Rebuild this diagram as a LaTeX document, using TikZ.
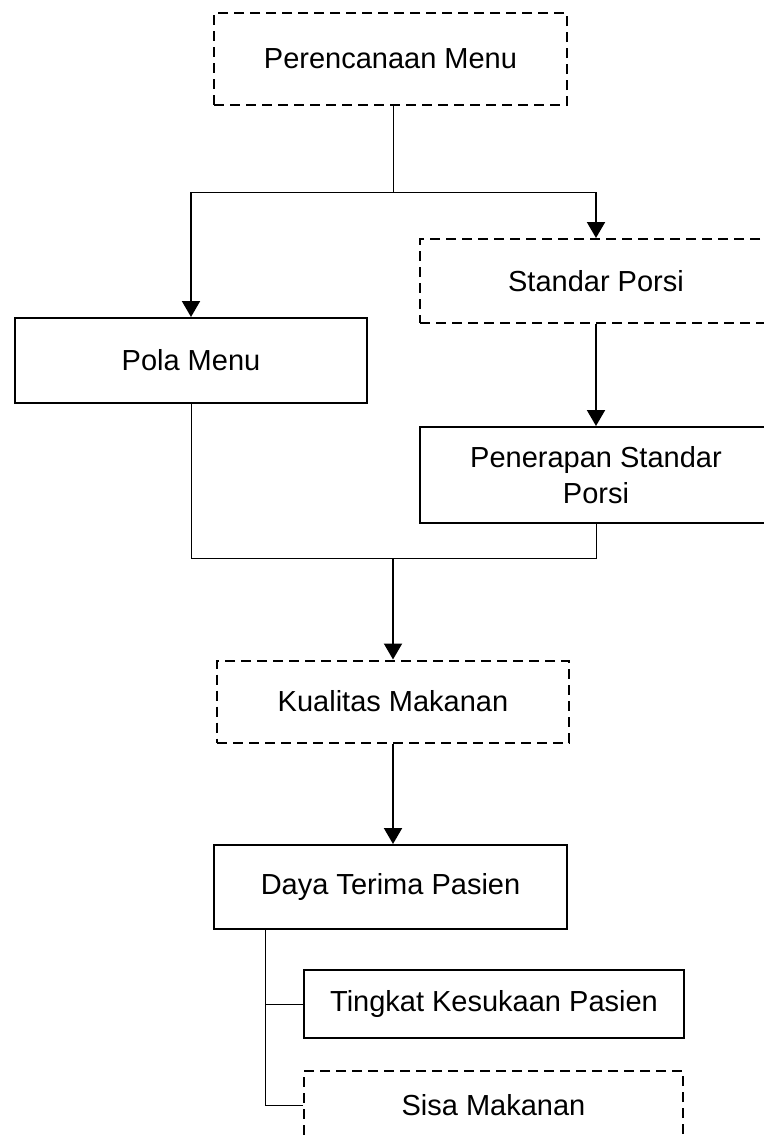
\documentclass[tikz,border=0pt]{standalone}
\usepackage{fontspec}
\setmainfont{Liberation Sans}
\usetikzlibrary{arrows.meta}
\tikzset{
    flow/diagram/.style={
        x=0.5pt, y=-0.5pt,
        font=\fontsize{14.5}{18.3}\selectfont,
        line cap=butt, line join=miter
    },
    flow/box/.style={
        draw=black, line width=1pt, inner sep=0pt,
        align=center, fill=white
    },
    flow/dashbox/.style={
        flow/box, dash pattern=on 5pt off 3pt
    },
    flow/link/.style={draw=black, line width=0.5pt},
    flow/arrow/.style={
        draw=black, line width=1pt,
        -{Triangle[length=8pt, width=9pt]}
    }
}

\begin{document}
\begin{tikzpicture}[flow/diagram]
    \useasboundingbox (0,0) rectangle (764,1136);
    \node[flow/dashbox, minimum width=176.5pt, minimum height=46pt]
        (menu) at (390.5,59) {Perencanaan Menu};
    \node[flow/box, minimum width=176pt, minimum height=42.5pt]
        (pola) at (191,360.5) {Pola Menu};
    \node[flow/dashbox, minimum width=176pt, minimum height=42pt]
        (standar) at (596,281) {Standar Porsi};
    \node[flow/box, minimum width=176pt, minimum height=48pt]
        (penerapan) at (596,475) {Penerapan Standar\\Porsi};
    \node[flow/dashbox, minimum width=176pt, minimum height=41pt]
        (kualitas) at (393,701.5) {Kualitas Makanan};
    \node[flow/box, minimum width=176.5pt, minimum height=42pt]
        (daya) at (390.5,887) {Daya Terima Pasien};
    \node[flow/box, minimum width=190pt, minimum height=34pt]
        (tingkat) at (494,1004) {Tingkat Kesukaan Pasien};
    \node[flow/dashbox, minimum width=189.5pt, minimum height=34pt]
        (sisa) at (493.5,1105) {Sisa Makanan};
    \coordinate (split) at (393,192);
    \coordinate (join) at (393,558);
    \coordinate (branch) at (265,1105);
    \draw[flow/link] (split |- menu.south) -- (split);
    \draw[flow/link] (pola.north |- split) -- (standar.north |- split);
    \draw[flow/arrow] (pola.north |- split) -- (pola.north);
    \draw[flow/arrow] (standar.north |- split) -- (standar.north);
    \draw[flow/arrow] (standar) -- (penerapan);
    \draw[flow/link] (pola.south) |- (penerapan.south |- join) -- (penerapan.south);
    \draw[flow/arrow] (join) -- (kualitas.north);
    \draw[flow/arrow] (kualitas.south) -- (kualitas.south |- daya.north);
    \draw[flow/link] (branch |- daya.south) -- (branch) -- (sisa.west);
    \draw[flow/link] (branch |- tingkat.west) -- (tingkat.west);
\end{tikzpicture}
\end{document}
